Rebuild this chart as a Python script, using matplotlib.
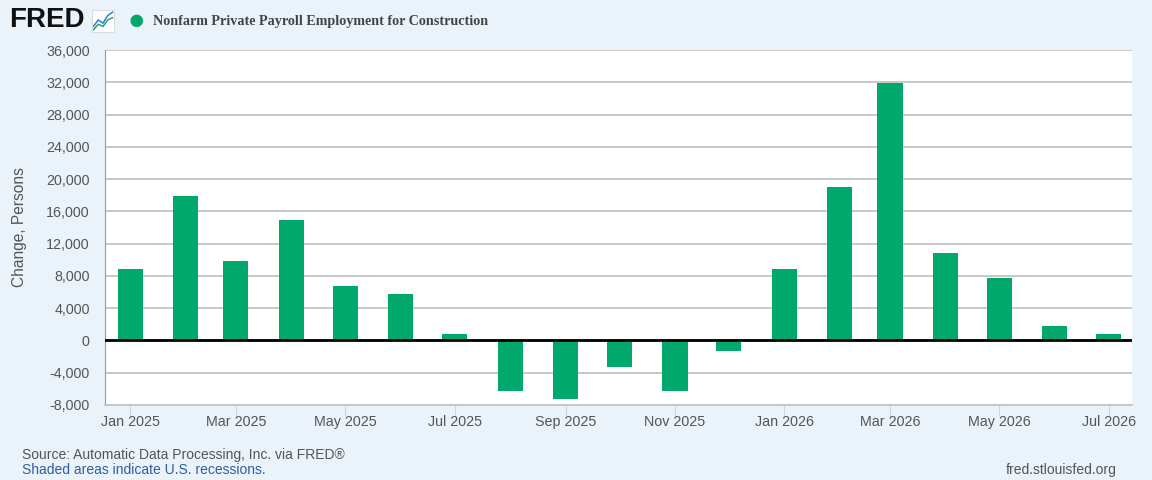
import pandas as pd
import matplotlib
matplotlib.use("Agg")
import matplotlib.pyplot as plt
import matplotlib.dates as mdates
from matplotlib.ticker import FuncFormatter, MultipleLocator

# monthly change, persons
months = pd.date_range("2025-01-01", "2026-07-01", freq="MS")
values = [8800, 17900, 9800, 14900, 6800, 5800, 800, -6300, -7200, -3300,
          -6300, -1300, 8800, 19000, 31900, 10800, 7800, 1800, 800]

BG = "#EAF2FA"
BAR = "#00A86B"
GREY_TXT = "#555555"

plt.rcParams['font.family'] = ['Liberation Sans', 'DejaVu Sans']

fig = plt.figure(figsize=(11.52, 4.8), dpi=100, facecolor=BG)
ax = fig.add_axes([105 / 1152, 75 / 480, 1027 / 1152, 355 / 480])
ax.set_facecolor("white")

ax.bar(months, values, width=14, color=BAR, zorder=3)
ax.axhline(0, color="black", linewidth=2, zorder=4)

ax.set_ylim(-8000, 36000)
ax.set_xlim(pd.Timestamp("2024-12-18"), pd.Timestamp("2026-07-14"))
ax.yaxis.set_major_locator(MultipleLocator(4000))
ax.yaxis.set_major_formatter(FuncFormatter(lambda v, p: f"{int(v):,}"))
ax.grid(axis="y", color="#C4C4C4", linewidth=1.3, zorder=0)

ax.xaxis.set_major_locator(mdates.MonthLocator(bymonth=[1, 3, 5, 7, 9, 11]))
ax.xaxis.set_major_formatter(mdates.DateFormatter("%b %Y"))

ax.tick_params(axis="y", length=0, labelsize=10.3, labelcolor=GREY_TXT, pad=11)
ax.tick_params(axis="x", length=8, color="#CCD6EB", labelsize=10.3,
               labelcolor=GREY_TXT, pad=-1)

for s in ["top", "right"]:
    ax.spines[s].set_visible(False)
ax.spines["left"].set_color("#9A9A9A")
ax.spines["bottom"].set_color("#C4C4C4")
ax.spines["bottom"].set_linewidth(1.3)

ax.set_ylabel("Change, Persons", fontsize=11.2, color=GREY_TXT)
ax.yaxis.set_label_coords(-78 / 1027, 0.5)

# header: FRED logo, legend dot and series title
fig.text(9 / 1152, 1 - 20 / 480, "FRED", fontsize=20, fontweight="bold",
         color="#111111", va="center", ha="left")
icon = fig.add_axes([92 / 1152, 1 - 32 / 480, 22 / 1152, 22 / 480])
icon.set_facecolor("white")
icon.plot([0, 1, 2, 3, 4], [1, 2.2, 1.6, 3, 3.6], color="#2F7CD8", linewidth=1.1)
icon.plot([0, 1, 2, 3, 4], [0.4, 1.4, 1.0, 2.2, 2.6], color="#1FA67A", linewidth=1.1)
icon.set_xlim(-0.3, 4.3)
icon.set_ylim(0, 4)
icon.set_xticks([])
icon.set_yticks([])
for s in icon.spines.values():
    s.set_color("#DDDDDD")

fig.text(136 / 1152, 1 - 21 / 480, "\u25CF", fontsize=21, color=BAR,
         va="center", ha="center")
fig.text(153 / 1152, 1 - 21 / 480, "Nonfarm Private Payroll Employment for Construction",
         fontsize=10.2, fontweight="bold", color="#444444", va="center", ha="left",
         family=["Liberation Serif", "DejaVu Serif"])

# footer
fig.text(22 / 1152, 1 - 455 / 480, "Source: Automatic Data Processing, Inc. via FRED\u00AE",
         fontsize=10, color=GREY_TXT, va="center", ha="left")
fig.text(22 / 1152, 1 - 470 / 480, "Shaded areas indicate U.S. recessions.",
         fontsize=10, color="#2E5E9E", va="center", ha="left")
fig.text(1117 / 1152, 1 - 470 / 480, "fred.stlouisfed.org",
         fontsize=10, color=GREY_TXT, va="center", ha="right")

fig.savefig("out.png", dpi=100, facecolor=BG)
